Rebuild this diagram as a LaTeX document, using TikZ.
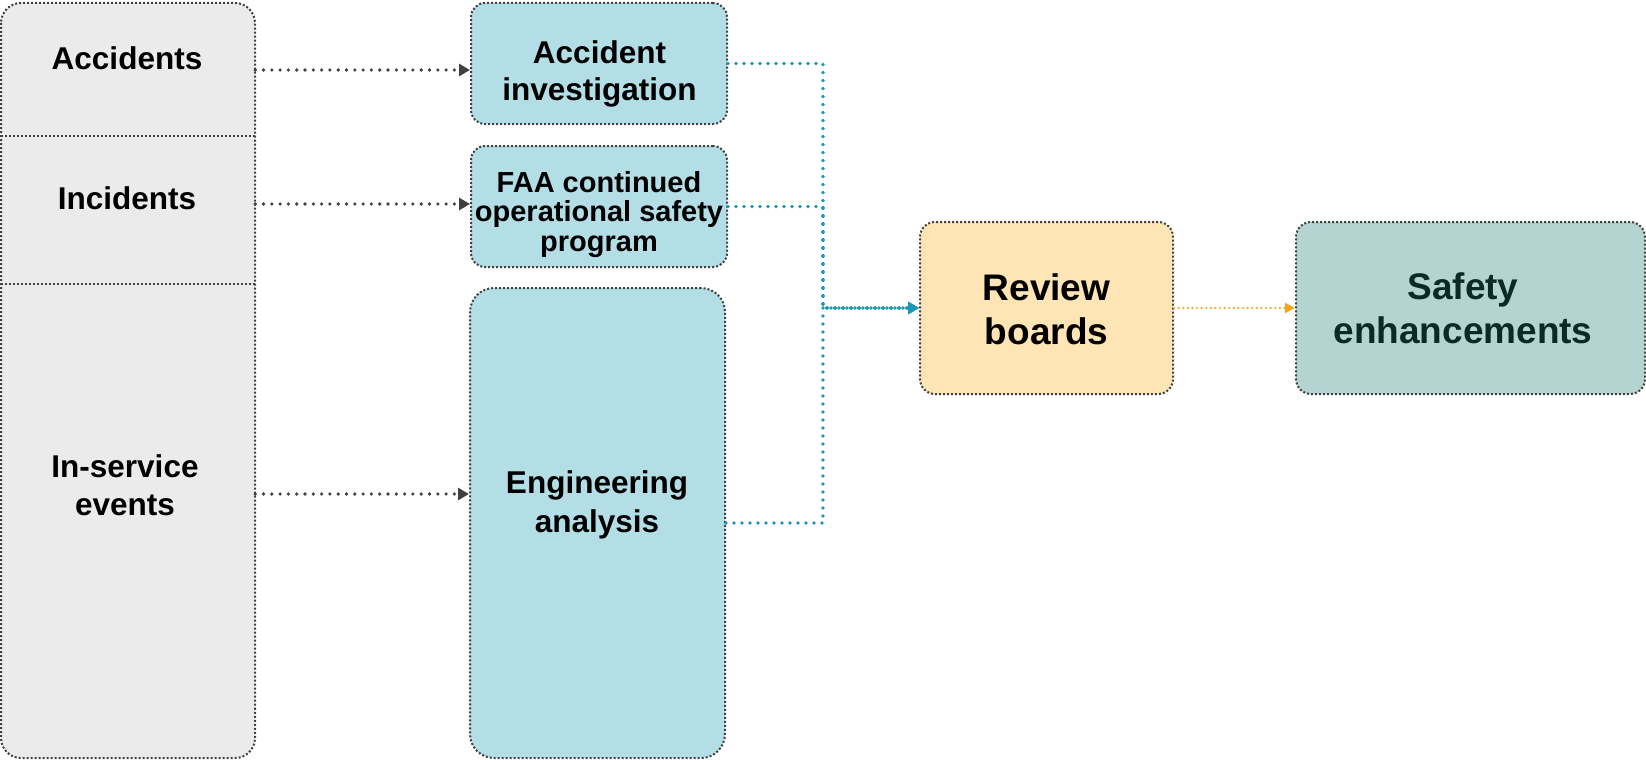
\documentclass[tikz,border=0pt]{standalone}
\usepackage{fontspec}
\setmainfont{Liberation Sans}
\usetikzlibrary{arrows.meta}
\definecolor{graybox}{HTML}{EBEBEB}
\definecolor{bluebox}{HTML}{B3DEE6}
\definecolor{reviewbox}{HTML}{FFE4B5}
\definecolor{safetybox}{HTML}{B3D4D1}
\definecolor{bordercol}{HTML}{404040}
\definecolor{blueline}{HTML}{1A98B5}
\definecolor{orangeline}{HTML}{F5A31A}
\definecolor{safetytext}{HTML}{0C2A24}
\newcommand\myfs[2]{\fontsize{#1}{#2}\selectfont}
\begin{document}
\begin{tikzpicture}[x=1pt,y=-1pt,
  boxborder/.style={draw=bordercol, line width=2pt, dash pattern=on 2pt off 2pt},
  section/.style={inner sep=0pt, minimum width=254pt},
  bluenode/.style={boxborder, fill=bluebox, rounded corners=14pt, inner sep=0pt, minimum width=256pt},
  txt/.style={align=center, inner sep=0pt, font=\bfseries},
  grayconn/.style={draw=bordercol, line width=3.6pt, line cap=round, dash pattern=on 0pt off 8.3pt, -{Triangle[length=11pt,width=12pt]}},
  blueconn/.style={draw=blueline, line width=3.6pt, line cap=round, dash pattern=on 0pt off 8pt, -{Triangle[length=11pt,width=12pt]}},
  orangeconn/.style={draw=orangeline, line width=2.4pt, line cap=round, dash pattern=on 0pt off 4.6pt, -{Triangle[length=10pt,width=10pt]}}
]
\useasboundingbox (0,0) rectangle (1646,760);

% left column
\draw[boxborder, fill=graybox, rounded corners=20pt] (1,3) rectangle (255,758);
\node[section, minimum height=133pt] (accsec) at (128,69.5) {};
\node[section, minimum height=148pt] (incsec) at (128,210) {};
\node[section, minimum height=474pt] (insec) at (128,521) {};
\draw[boxborder] (accsec.south west) -- (accsec.south east);
\draw[boxborder] (incsec.south west) -- (incsec.south east);
\node[txt, font=\bfseries\myfs{31.5}{38}] (acctxt) at (127,58.5) {Accidents};
\node[txt, font=\bfseries\myfs{31.5}{38}] (inctxt) at (127,198.5) {Incidents};
\node[txt, font=\bfseries\myfs{31.5}{38}] (intxt) at (125,485) {In-service\\events};

% middle column
\node[bluenode, minimum height=121pt] (acc) at (599,63.5) {};
\node[bluenode, minimum height=121pt] (faa) at (599,206.5) {};
\node[bluenode, minimum width=255pt, minimum height=470pt, rounded corners=24pt] (eng) at (597.5,523) {};
\node[txt, font=\bfseries\myfs{31.5}{37}] (acct) at (599.5,74) {Accident\\investigation};
\node[txt, font=\bfseries\myfs{29}{29.5}] (faat) at (599,214.5) {FAA continued\\operational safety\\program};
\node[txt, font=\bfseries\myfs{31.5}{39}] (engt) at (597,505) {Engineering\\analysis};

% right boxes
\node[boxborder, fill=reviewbox, rounded corners=15pt, minimum width=253pt, minimum height=172pt] (review) at (1046.5,308) {};
\node[boxborder, fill=safetybox, rounded corners=15pt, minimum width=349pt, minimum height=172pt] (safety) at (1470.5,308) {};
\node[txt, font=\bfseries\myfs{37}{44}] (reviewt) at (1046.5,309.5) {Review\\boards};
\node[txt, font=\bfseries\myfs{37}{44}, text=safetytext] (safetyt) at (1463,308) {Safety\\enhancements};

% gray connectors
\coordinate (y1) at (0,70);
\coordinate (y2) at (0,204);
\coordinate (y3) at (0,494);
\draw[grayconn] (accsec.east |- y1) -- (acc.west |- y1);
\draw[grayconn] (incsec.east |- y2) -- (faa.west |- y2);
\draw[grayconn] (insec.east |- y3) -- (eng.west |- y3);

% blue connectors
\coordinate (j) at (823,308);
\draw[blueconn] (acc.east) -| (j) -- (review.west);
\draw[blueconn] (faa.east) -| (j) -- (review.west);
\draw[blueconn] (eng.east) -| (j) -- (review.west);

% orange connector
\draw[orangeconn] (review.east) -- (safety.west);
\end{tikzpicture}
\end{document}
